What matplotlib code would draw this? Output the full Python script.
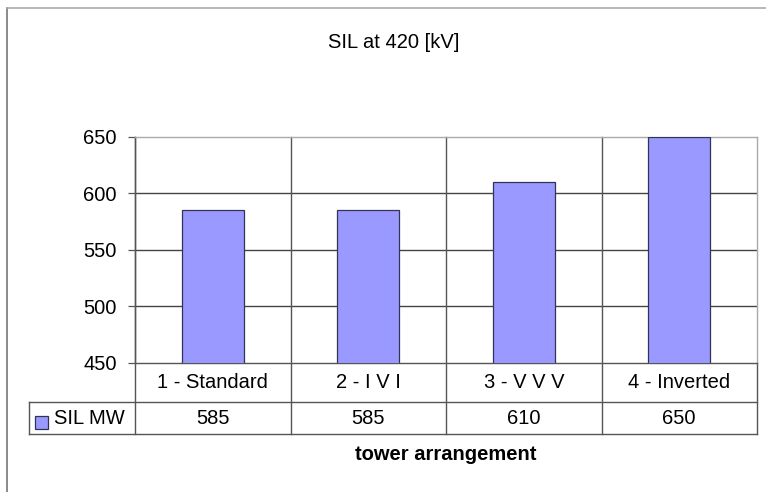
import matplotlib.pyplot as plt
from matplotlib.lines import Line2D
from matplotlib.patches import Rectangle
import matplotlib.transforms as mtransforms

plt.rcParams['font.family'] = ['Liberation Sans', 'DejaVu Sans']

categories = ["1 - Standard", "2 - I V I", "3 - V V V", "4 - Inverted"]
sil_mw = [585, 585, 610, 650]
series_name = "SIL MW"
y_ticks = [450, 500, 550, 600, 650]

W, H = 766, 492
fig = plt.figure(figsize=(W / 100, H / 100), dpi=100)

# plot area in pixel coordinates (from top-left)
px_l, px_r, px_t, px_b = 135, 757, 137, 363
ax = fig.add_axes([px_l / W, 1 - px_b / H, (px_r - px_l) / W, (px_b - px_t) / H])

fs = 14.5
bar_color = "#9999FF"
edge_color = "#333355"
x = list(range(len(categories)))
ax.bar(x, sil_mw, width=0.4, color=bar_color, edgecolor=edge_color, linewidth=0.9, zorder=3)

ax.set_xlim(-0.5, len(categories) - 0.5)
ax.set_ylim(450, 650)
ax.set_yticks(y_ticks)
ax.set_yticklabels([str(v) for v in y_ticks], fontsize=fs)
ax.set_xticks([])
ax.tick_params(axis="y", length=5, width=0.9, color="#555555", pad=8)

for s in ["top", "right"]:
    ax.spines[s].set_color("#aaaaaa")
    ax.spines[s].set_linewidth(1.0)
ax.spines["left"].set_color("#555555")
ax.spines["bottom"].set_color("#555555")
ax.spines["left"].set_linewidth(1.0)
ax.spines["bottom"].set_linewidth(1.0)

# horizontal gridlines
for v in y_ticks[1:-1]:
    ax.axhline(v, color="#444444", linewidth=1.0, zorder=1)

# data table below the plot (axes-fraction y below 0)
row1 = -(402 - px_b) / (px_b - px_t)
row2 = -(434 - px_b) / (px_b - px_t)
blend = mtransforms.blended_transform_factory(ax.transData, ax.transAxes)
line_kw = dict(color="#555555", linewidth=1.0, clip_on=False)

# column dividers through plot and table
for b in [0.5, 1.5, 2.5]:
    ax.add_line(Line2D([b, b], [row2, 1], transform=blend, zorder=2, **line_kw))
ax.add_line(Line2D([0, 0], [row2, 1], transform=ax.transAxes, **line_kw))
ax.add_line(Line2D([1, 1], [row2, 0], transform=ax.transAxes, **line_kw))

leg_l = -(px_l - 29) / (px_r - px_l)
ax.add_line(Line2D([leg_l, 1], [row1, row1], transform=ax.transAxes, **line_kw))
ax.add_line(Line2D([leg_l, 1], [row2, row2], transform=ax.transAxes, **line_kw))
ax.add_line(Line2D([leg_l, leg_l], [row1, row2], transform=ax.transAxes, **line_kw))

cat_y = row1 / 2
val_y = (row1 + row2) / 2
for i, (c, v) in enumerate(zip(categories, sil_mw)):
    ax.text(i, cat_y, c, transform=blend, ha="center", va="center", fontsize=fs)
    ax.text(i, val_y, str(v), transform=blend, ha="center", va="center", fontsize=fs)

# legend key in the table
fig.add_artist(Rectangle((35 / W, 1 - 429 / H), 13 / W, 13 / H, transform=fig.transFigure,
                         facecolor=bar_color, edgecolor=edge_color, linewidth=0.9))
fig.text(54 / W, 1 - 419 / H, series_name, ha="left", va="center", fontsize=fs)

fig.text(446 / W, 1 - 455 / H, "tower arrangement", ha="center", va="center",
         fontsize=fs, fontweight="bold")
fig.text(394 / W, 1 - 42 / H, "SIL at 420 [kV]", ha="center", va="center", fontsize=fs)

# chart frame (top and left edges visible)
fig.add_artist(Line2D([7 / W, 7 / W], [0, 1 - 8 / H], transform=fig.transFigure,
                      color="#777777", linewidth=1.2))
fig.add_artist(Line2D([7 / W, 1], [1 - 8 / H, 1 - 8 / H], transform=fig.transFigure,
                      color="#aaaaaa", linewidth=1.2))

fig.savefig("out.png", dpi=100)
